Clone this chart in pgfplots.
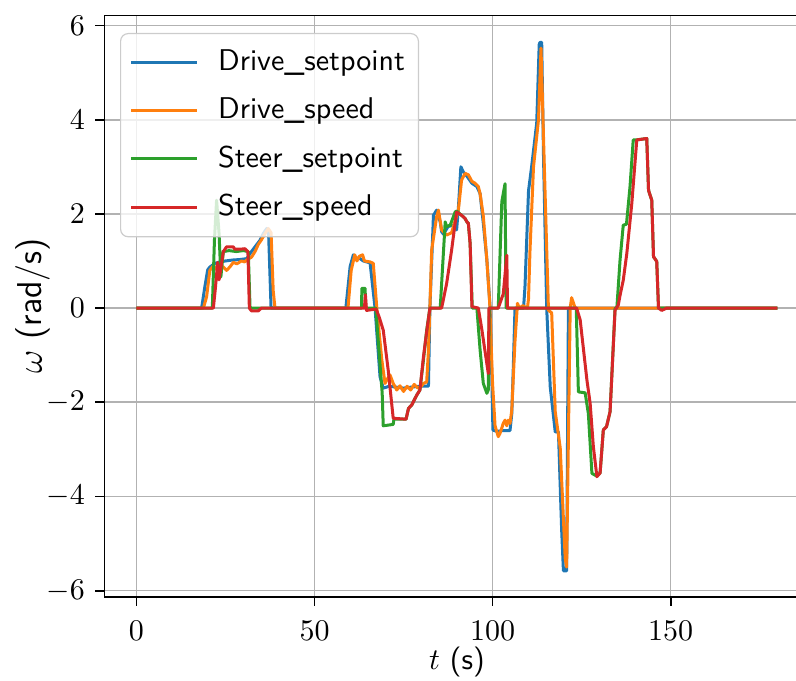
\documentclass[border=0pt]{standalone}
\usepackage{pgfplots}
\pgfplotsset{compat=1.18}
\definecolor{tabblue}{HTML}{1F77B4}
\definecolor{taborange}{HTML}{FF7F0E}
\definecolor{tabgreen}{HTML}{2CA02C}
\definecolor{tabred}{HTML}{D62728}
\begin{document}
\begin{tikzpicture}
\begin{axis}[name=ax,
  scale only axis, width=235pt, height=193.7pt,
  xmin=-9, xmax=189, ymin=-6.13, ymax=6.21,
  xtick={0,50,100,150}, ytick={-6,-4,-2,0,2,4,6},
  grid=major, grid style={color=black!30, line width=0.55pt},
  axis line style={line width=0.6pt},
  tick align=outside, tick pos=left, major tick length=3pt,
  tick style={black, line width=0.6pt},
  ticklabel style={font=\normalsize},
  xticklabel style={yshift=-1.5pt},
  xlabel={\textsf{$t$ (s)}}, ylabel={\textsf{$\omega$ (rad/s)}},
  xlabel style={at={(axis description cs:0.5,-0.112)}, anchor=center},
  ylabel style={at={(axis description cs:-0.101,0.5)}, anchor=center, font=\fontsize{11.5}{13}\selectfont},
  legend cell align=left,
  legend image code/.code={\draw[#1,line width=1pt] (0pt,0pt) -- (22pt,0pt); \path (27pt,0pt);},
  legend style={at={(0,1)}, anchor=north west, xshift=5.2pt, yshift=-5.8pt,
    draw=black!20, rounded corners=2.5pt, fill=white, fill opacity=0.8,
    draw opacity=1, text opacity=1, font=\sffamily,
    inner xsep=3pt, inner ysep=4pt, row sep=4.5pt,
    nodes={inner sep=1.5pt}},
  every axis plot/.append style={line width=1pt, line join=round},
]
\addplot[tabblue] coordinates {(0,0) (18.3,0) (19.2,0.45) (20.0,0.81) (20.6,0.87) (22.1,0.95) (23.5,0.98) (25,1.0) (27,1.02) (29,1.03) (31,1.05) (31.9,1.16) (33.3,1.3) (34.7,1.44) (35.6,1.58) (36.6,1.69) (37.1,1.6) (37.8,0) (58.8,0) (60,0.88) (60.9,1.13) (61.8,1.06) (62.8,1.05) (63.7,1.0) (65.6,0.96) (67,0) (68.4,-1.46) (69.3,-1.7) (71,-1.66) (73,-1.68) (75,-1.7) (77,-1.68) (79.6,-1.66) (82,-1.66) (82.4,0) (83.4,1.97) (84.3,2.08) (85.3,1.83) (85.7,1.62) (86.2,1.57) (87.5,1.73) (88.9,1.76) (89.5,1.73) (89.9,1.66) (90.4,2.12) (91.1,3.0) (91.8,2.89) (92.8,2.8) (94.2,2.65) (95.6,2.58) (96.5,2.43) (97.4,1.8) (98.4,1.02) (99.3,0.03) (99.8,-1.5) (100.1,-2.59) (101.2,-2.62) (103,-2.6) (104.9,-2.6) (105.4,-2.24) (105.8,-1.32) (106.3,0) (108.7,0) (109.1,0.45) (110.1,2.49) (111,3.02) (112.4,3.93) (113.1,5.6) (113.3,5.64) (113.8,5.64) (114.3,3.25) (115.2,0) (116.2,-1.68) (117.6,-2.63) (118.5,-2.63) (119.4,-4.71) (119.9,-5.58) (120.8,-5.58) (121.3,0) (180,0)};
\addlegendentry{Drive\_setpoint}
\addplot[taborange] coordinates {(0,0) (18.8,0) (19.7,0.24) (20.6,0.8) (21.6,0.9) (22.1,0.83) (23,0.93) (24.4,0.87) (25.3,0.8) (26.2,0.87) (27.2,0.97) (28.2,0.94) (29.5,1.0) (30.4,0.98) (31.3,1.04) (32.3,1.08) (33.3,1.2) (34.2,1.35) (35.1,1.45) (36.1,1.58) (37.0,1.69) (37.8,1.6) (38.4,0.37) (38.9,0) (59.4,0) (60.3,0.8) (61.3,1.13) (61.9,1.0) (62.6,1.1) (63.5,1.13) (64.0,1.0) (65.6,0.98) (66.5,0.95) (67.5,0) (68.9,-1.1) (69.8,-1.6) (70.5,-1.5) (71.2,-1.42) (72.1,-1.6) (73.1,-1.74) (74,-1.65) (75,-1.77) (76,-1.66) (77,-1.74) (78,-1.62) (79,-1.7) (80,-1.66) (80.6,-1.6) (81.5,-1.57) (82,-0.89) (82.4,0) (82.9,1.23) (84.3,1.94) (84.8,2.08) (85.7,1.66) (87.1,1.55) (88.5,1.6) (89.4,1.83) (90.4,2.08) (91.3,2.72) (92.3,2.86) (93.2,2.83) (94.2,2.69) (95.1,2.65) (96,2.58) (96.5,2.43) (97.4,1.95) (98.4,1.02) (99.2,0.1) (100,-1.6) (100.7,-2.5) (101.6,-2.73) (102.1,-2.66) (103,-2.45) (103.5,-2.38) (104,-2.5) (104.4,-2.38) (104.9,-2.45) (105.4,-2.17) (106.3,-0.7) (107,0.1) (107.5,0) (108.5,0.05) (109.8,0) (110.1,0.2) (110.5,1.2) (111.5,3.0) (112.9,4.0) (113.6,5.52) (114.7,2.57) (115.7,-0.05) (116.6,-0.1) (117.6,-2.2) (119,-2.97) (120.4,-5.32) (120.8,-5.5) (121.8,0) (122.2,0.22) (123.2,0) (180,0)};
\addlegendentry{Drive\_speed}
\addplot[tabgreen] coordinates {(0,0) (21.3,0) (21.9,1.44) (22.5,2.29) (23.2,1.58) (23.7,0.66) (24.4,1.2) (26,1.22) (28,1.2) (30,1.22) (31.4,1.2) (31.9,0) (63.2,0) (63.3,0.42) (64.2,0.42) (64.4,0) (67.2,0) (68.5,-1.3) (69.0,-1.8) (69.3,-2.5) (72.1,-2.47) (72.3,-2.36) (75.7,-2.36) (76.4,-2.13) (77.3,-2.06) (78.7,-1.85) (79.6,-1.74) (80.6,-1.1) (81.5,-0.47) (82.4,0) (85.3,0) (86.7,1.83) (87.1,1.73) (88.1,1.76) (89.5,2.04) (89.9,2.06) (91.3,1.97) (92.3,1.9) (92.8,1.83) (93.2,1.8) (93.7,1.37) (94.3,0) (95.6,0) (96.5,-0.89) (97.4,-1.6) (98.4,-1.81) (98.8,-1.74) (99.1,0) (101.6,0) (102.6,2.26) (103.5,2.64) (103.8,0) (123.5,0) (123.6,-0.3) (124.1,-1.78) (126,-1.8) (126.9,-2.24) (127.9,-3.51) (129.3,-3.57) (130.2,-3.5) (131.1,-2.59) (132,-2.52) (133,-2.2) (134.4,0) (134.9,0) (135.8,1.02) (136.7,1.76) (137.6,1.78) (138.6,2.58) (139.5,3.57) (140.4,3.57) (143.3,3.6) (143.8,2.5) (144.7,2.29) (145.2,1.09) (146.1,0.99) (146.6,0) (180,0)};
\addlegendentry{Steer\_setpoint}
\addplot[tabred] coordinates {(0,0) (21.6,0) (22.2,0.45) (22.8,0.97) (23.2,0.6) (23.7,0.85) (24.4,1.2) (25.3,1.3) (27.2,1.3) (27.6,1.25) (29.1,1.25) (30.5,1.26) (31.3,1.2) (31.7,0) (32.3,-0.06) (34.2,-0.06) (35.1,0) (64.0,0) (64.3,0.28) (64.6,-0.05) (67.3,-0.02) (68.2,-0.2) (69.3,-0.47) (70.7,-1.32) (72.1,-2.34) (75.7,-2.36) (76.4,-2.13) (77.3,-2.06) (78.7,-1.85) (79.6,-1.74) (80.6,-1.03) (81.5,-0.5) (82.4,0) (85.7,0) (87.1,0.52) (88.5,1.23) (89.9,2.04) (91.3,1.97) (92.3,1.9) (92.8,1.83) (93.2,1.8) (93.7,1.37) (94.2,0.03) (96,0) (97,-0.46) (98.8,-1.39) (99.0,0) (101.6,0) (103,0.3) (104,1.12) (104.2,0) (123.6,0) (124.6,-0.25) (126.5,-1.53) (127.4,-2.02) (128.3,-2.94) (129.3,-3.58) (130.2,-3.5) (131.1,-2.59) (132,-2.52) (133,-2.2) (134.4,-0.04) (135.3,0.06) (135.8,0.27) (136.7,0.59) (137.7,1.16) (139.1,2.22) (140.5,3.57) (143.3,3.6) (143.8,2.5) (144.7,2.29) (145.2,1.09) (146.1,0.99) (146.6,0) (147.5,-0.05) (148.9,0) (180,0)};
\addlegendentry{Steer\_speed}
\end{axis}
\pgfresetboundingbox
\path[use as bounding box] ([xshift=-34.8pt,yshift=-27.8pt]ax.south west) rectangle ++(265.3pt,226.7pt);
\end{tikzpicture}
\end{document}
